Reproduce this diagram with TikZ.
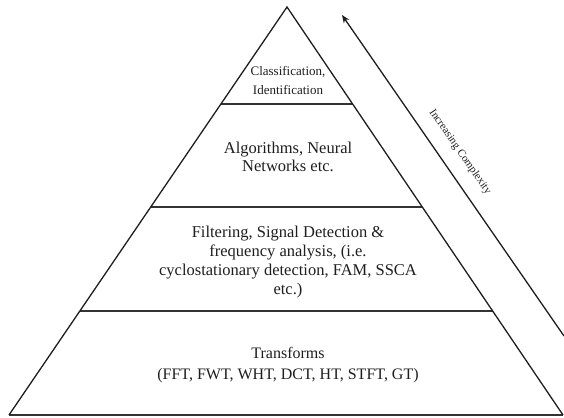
\documentclass[tikz,border=0pt]{standalone}
\usepackage{fontspec}
\setmainfont{Liberation Serif}
\usetikzlibrary{calc,arrows.meta}
\definecolor{ink}{HTML}{1E1E1E}
\definecolor{bar}{HTML}{333333}
\tikzset{
  side/.style={draw=ink, line width=1.3pt, line join=miter},
  tier/.style={draw=bar, line width=2pt},
  lbl/.style={text=ink, align=center, inner sep=0pt},
}
\begin{document}
\begin{tikzpicture}[x=1pt,y=-1pt]
\useasboundingbox (0,0) rectangle (564,417);
\coordinate (A) at (287,7);
\coordinate (BL) at (9,415);
\coordinate (BR) at (563,415);
% tier lines
\draw[tier] ($(A)!0.2377!(BL)$) coordinate (t1l) -- ($(A)!0.2377!(BR)$) coordinate (t1r);
\draw[tier] ($(A)!0.4902!(BL)$) coordinate (t2l) -- ($(A)!0.4902!(BR)$) coordinate (t2r);
\draw[tier] ($(A)!0.7451!(BL)$) coordinate (t3l) -- ($(A)!0.7451!(BR)$) coordinate (t3r);
\draw[tier] (BL) -- (BR);
% pyramid sides
\draw[side] (BL) -- (A) -- (BR);
% labels
\node[lbl, font=\fontsize{13}{19}\selectfont] (top) at (288,80) {Classification,\\Identification};
\node[lbl, font=\fontsize{16.5}{18}\selectfont] (algo) at (288,157) {Algorithms, Neural\\Networks etc.};
\node[lbl, font=\fontsize{16.5}{18.8}\selectfont] (filt) at (288,262) {Filtering, Signal Detection \&\\frequency analysis, (i.e.\\cyclostationary detection, FAM, SSCA\\etc.)};
\node[lbl, font=\fontsize{16}{21}\selectfont] (trans) at (288,365) {Transforms\\(FFT, FWT, WHT, DCT, HT, STFT, GT)};
% complexity arrow
\coordinate (arrEnd) at (564,336);
\coordinate (arrTip) at (342,15);
\draw[ink, line width=1.3pt, -{Stealth[length=8pt,width=6.5pt]}] (arrEnd) -- (arrTip);
\node[lbl, font=\fontsize{11}{12}\selectfont, rotate=-55.2] (cx) at (460,152) {Increasing Complexity};
\end{tikzpicture}
\end{document}
